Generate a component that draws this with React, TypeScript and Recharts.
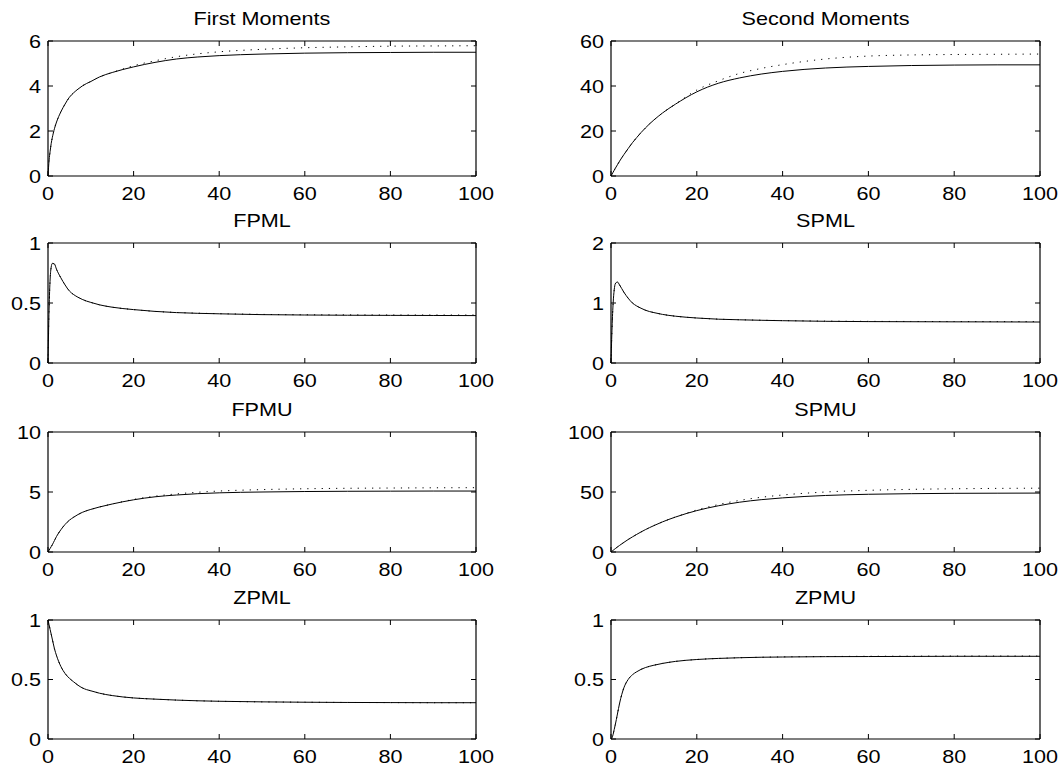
import React from "react";
import { LineChart, Line, XAxis, YAxis } from "recharts";

// Shared x grid (time steps)
const X = [0, 0.25, 0.5, 0.75, 1, 1.5, 2, 3, 4, 5, 6, 7, 8, 9, 10, 12, 15, 20, 25, 30, 35, 40, 50, 60, 70, 80, 90, 100];
const X_TICKS = [0, 20, 40, 60, 80, 100];

// First Moments
const FM_SOLID = [0, 0.7, 1.1, 1.45, 1.7, 2.1, 2.4, 2.85, 3.2, 3.5, 3.7, 3.86, 4.0, 4.11, 4.2, 4.4, 4.6, 4.85, 5.05, 5.2, 5.29, 5.35, 5.42, 5.46, 5.48, 5.49, 5.5, 5.5];
const FM_DOT = [0, 0.7, 1.1, 1.45, 1.7, 2.1, 2.4, 2.85, 3.2, 3.5, 3.7, 3.86, 4.0, 4.11, 4.2, 4.4, 4.6, 4.9, 5.12, 5.3, 5.43, 5.52, 5.63, 5.7, 5.74, 5.77, 5.78, 5.79];
const FM_TICKS = [0, 2, 4, 6];

// Second Moments
const SM_SOLID = [0, 0.85, 1.7, 2.55, 3.4, 5.0, 6.6, 9.5, 12.2, 14.8, 17.1, 19.3, 21.3, 23.2, 24.9, 28.0, 31.9, 37.4, 41.2, 43.6, 45.3, 46.5, 48.0, 48.7, 49.1, 49.3, 49.4, 49.4];
const SM_DOT = [0, 0.85, 1.7, 2.55, 3.4, 5.0, 6.6, 9.5, 12.2, 14.8, 17.1, 19.3, 21.3, 23.2, 24.9, 28.0, 31.9, 38.2, 42.3, 45.6, 47.8, 49.5, 52.0, 53.3, 53.8, 54.0, 54.1, 54.2];
const SM_TICKS = [0, 20, 40, 60];

// FPML
const FPML_SOLID = [0, 0.45, 0.7, 0.8, 0.83, 0.825, 0.78, 0.71, 0.65, 0.6, 0.57, 0.548, 0.53, 0.516, 0.505, 0.485, 0.465, 0.445, 0.43, 0.42, 0.414, 0.41, 0.403, 0.4, 0.398, 0.397, 0.396, 0.395];
const FPML_DOT = [0, 0.45, 0.7, 0.8, 0.83, 0.825, 0.78, 0.71, 0.65, 0.6, 0.57, 0.548, 0.53, 0.516, 0.505, 0.485, 0.465, 0.445, 0.43, 0.421, 0.415, 0.411, 0.405, 0.402, 0.401, 0.4, 0.4, 0.4];
const FPML_TICKS = [0, 0.5, 1];

// SPML
const SPML_SOLID = [0, 0.6, 1.0, 1.22, 1.32, 1.35, 1.3, 1.18, 1.08, 1.0, 0.95, 0.913, 0.88, 0.857, 0.84, 0.81, 0.78, 0.75, 0.73, 0.72, 0.712, 0.705, 0.695, 0.69, 0.688, 0.686, 0.685, 0.683];
const SPML_DOT = [0, 0.6, 1.0, 1.22, 1.32, 1.35, 1.3, 1.18, 1.08, 1.0, 0.95, 0.913, 0.88, 0.857, 0.84, 0.81, 0.78, 0.75, 0.731, 0.721, 0.713, 0.707, 0.698, 0.694, 0.692, 0.691, 0.69, 0.69];
const SPML_TICKS = [0, 1, 2];

// FPMU
const FPMU_SOLID = [0, 0.15, 0.3, 0.45, 0.6, 0.95, 1.3, 1.85, 2.3, 2.65, 2.9, 3.12, 3.3, 3.44, 3.55, 3.75, 4.0, 4.35, 4.6, 4.75, 4.86, 4.93, 5.0, 5.04, 5.06, 5.07, 5.08, 5.08];
const FPMU_DOT = [0, 0.15, 0.3, 0.45, 0.6, 0.95, 1.3, 1.85, 2.3, 2.65, 2.9, 3.12, 3.3, 3.44, 3.55, 3.75, 4.0, 4.38, 4.65, 4.84, 4.98, 5.08, 5.2, 5.27, 5.31, 5.33, 5.35, 5.36];
const FPMU_TICKS = [0, 5, 10];

// SPMU
const SPMU_SOLID = [0, 0.7, 1.4, 2.1, 2.8, 4.2, 5.5, 8.0, 10.4, 12.6, 14.7, 16.7, 18.6, 20.35, 22.0, 25.1, 29.1, 34.5, 38.5, 41.5, 43.6, 45.1, 47.1, 48.1, 48.6, 48.9, 49.0, 49.1];
const SPMU_DOT = [0, 0.7, 1.4, 2.1, 2.8, 4.2, 5.5, 8.0, 10.4, 12.6, 14.7, 16.7, 18.6, 20.35, 22.0, 25.1, 29.1, 35.0, 39.5, 43.0, 45.6, 47.5, 50.0, 51.4, 52.2, 52.7, 53.0, 53.2];
const SPMU_TICKS = [0, 50, 100];

// ZPML
const ZPML_SOLID = [1.0, 0.96, 0.92, 0.88, 0.84, 0.76, 0.7, 0.61, 0.55, 0.51, 0.48, 0.452, 0.43, 0.415, 0.405, 0.385, 0.365, 0.345, 0.335, 0.327, 0.321, 0.317, 0.312, 0.309, 0.307, 0.306, 0.305, 0.305];
const ZPML_DOT = [1.0, 0.96, 0.92, 0.88, 0.84, 0.76, 0.7, 0.61, 0.55, 0.51, 0.48, 0.452, 0.43, 0.415, 0.405, 0.385, 0.365, 0.345, 0.335, 0.327, 0.321, 0.317, 0.312, 0.309, 0.307, 0.306, 0.305, 0.305];
const ZPML_TICKS = [0, 0.5, 1];

// ZPMU
const ZPMU_SOLID = [0, 0.01, 0.04, 0.08, 0.12, 0.21, 0.3, 0.43, 0.5, 0.54, 0.565, 0.585, 0.6, 0.611, 0.62, 0.635, 0.652, 0.668, 0.677, 0.683, 0.687, 0.689, 0.692, 0.693, 0.694, 0.695, 0.695, 0.695];
const ZPMU_DOT = [0, 0.01, 0.04, 0.08, 0.12, 0.21, 0.3, 0.43, 0.5, 0.54, 0.565, 0.585, 0.6, 0.611, 0.62, 0.635, 0.652, 0.668, 0.677, 0.683, 0.687, 0.69, 0.693, 0.695, 0.696, 0.697, 0.697, 0.697];
const ZPMU_TICKS = [0, 0.5, 1];

const TITLES = ["First Moments", "Second Moments", "FPML", "SPML", "FPMU", "SPMU", "ZPML", "ZPMU"];

const PANELS = [
  { title: TITLES[0], solid: FM_SOLID, dot: FM_DOT, ticks: FM_TICKS },
  { title: TITLES[1], solid: SM_SOLID, dot: SM_DOT, ticks: SM_TICKS },
  { title: TITLES[2], solid: FPML_SOLID, dot: FPML_DOT, ticks: FPML_TICKS },
  { title: TITLES[3], solid: SPML_SOLID, dot: SPML_DOT, ticks: SPML_TICKS },
  { title: TITLES[4], solid: FPMU_SOLID, dot: FPMU_DOT, ticks: FPMU_TICKS },
  { title: TITLES[5], solid: SPMU_SOLID, dot: SPMU_DOT, ticks: SPMU_TICKS },
  { title: TITLES[6], solid: ZPML_SOLID, dot: ZPML_DOT, ticks: ZPML_TICKS },
  { title: TITLES[7], solid: ZPMU_SOLID, dot: ZPMU_DOT, ticks: ZPMU_TICKS },
];

// layout
const COL_L = [48, 611];
const COL_W = [428, 429];
const ROW_T = [41, 243, 432, 620];
const ROW_H = [135, 120, 120, 119];

const FONT = "'Liberation Sans', Arial, Helvetica, sans-serif";
const FS = 18;
const SX = 1.2;
const TICK = 5;
const ML = 50;
const MT = 10;
const MR = 30;
const MB = 36;
const AX = 1; // axis band size

function Panel({ p, col, row }: { p: any; col: number; row: number }) {
  const W = COL_W[col];
  const H = ROW_H[row];
  const pl = ML;
  const pt = MT;
  const pr = ML + W;
  const pb = MT + H;
  const data = X.map((x, i) => ({ x, s: p.solid[i], d: p.dot[i] }));
  const yMax = p.ticks[p.ticks.length - 1];

  const bottomTick = (props: any) => {
    const { x, payload } = props;
    return (
      <g>
        <line x1={x} x2={x} y1={pb} y2={pb - TICK} stroke="#000" strokeWidth={1} />
        <text
          transform={`translate(${x},${pb + 24}) scale(${SX},1)`}
          textAnchor="middle"
          fontSize={FS}
          fontFamily={FONT}
          fill="#000"
        >
          {payload.value}
        </text>
      </g>
    );
  };
  const topTick = (props: any) => {
    const { x } = props;
    return <line x1={x} x2={x} y1={pt} y2={pt + TICK} stroke="#000" strokeWidth={1} />;
  };
  const leftTick = (props: any) => {
    const { y, payload } = props;
    return (
      <g>
        <line x1={pl} x2={pl + TICK} y1={y} y2={y} stroke="#000" strokeWidth={1} />
        <text
          transform={`translate(${pl - 7},${y + 6.5}) scale(${SX},1)`}
          textAnchor="end"
          fontSize={FS}
          fontFamily={FONT}
          fill="#000"
        >
          {payload.value}
        </text>
      </g>
    );
  };
  const rightTick = (props: any) => {
    const { y } = props;
    return <line x1={pr} x2={pr - TICK} y1={y} y2={y} stroke="#000" strokeWidth={1} />;
  };

  const axisLineStyle = { stroke: "#000", strokeWidth: 1.2 };

  return (
    <div
      style={{
        position: "absolute",
        left: COL_L[col] - ML,
        top: ROW_T[row] - MT,
        width: W + ML + MR,
        height: H + MT + MB,
      }}
    >
      <LineChart
        width={W + ML + MR}
        height={H + MT + MB}
        data={data}
        margin={{ top: MT - AX, right: MR - AX, bottom: MB - AX, left: ML - AX }}
      >
        <XAxis
          dataKey="x"
          type="number"
          domain={[0, 100]}
          ticks={X_TICKS}
          height={AX}
          tickLine={false}
          tick={bottomTick}
          axisLine={axisLineStyle}
          interval={0}
        />
        <XAxis
          xAxisId="top"
          orientation="top"
          dataKey="x"
          type="number"
          domain={[0, 100]}
          ticks={X_TICKS}
          height={AX}
          tickLine={false}
          tick={topTick}
          axisLine={axisLineStyle}
          interval={0}
        />
        <YAxis
          type="number"
          domain={[0, yMax]}
          ticks={p.ticks}
          width={AX}
          tickLine={false}
          tick={leftTick}
          axisLine={axisLineStyle}
          interval={0}
          allowDataOverflow
        />
        <YAxis
          yAxisId="right"
          orientation="right"
          type="number"
          domain={[0, yMax]}
          ticks={p.ticks}
          width={AX}
          tickLine={false}
          tick={rightTick}
          axisLine={axisLineStyle}
          interval={0}
          allowDataOverflow
        />
        <Line
          type="monotone"
          dataKey="d"
          stroke="#000"
          strokeWidth={1}
          strokeDasharray="1.2 6"
          dot={false}
          activeDot={false}
          isAnimationActive={false}
        />
        <Line
          type="monotone"
          dataKey="s"
          stroke="#000"
          strokeWidth={1}
          dot={false}
          activeDot={false}
          isAnimationActive={false}
        />
      </LineChart>
    </div>
  );
}

export default function App() {
  return (
    <div
      style={{
        position: "absolute",
        left: 0,
        top: 0,
        width: 1063,
        height: 769,
        background: "#fff",
        overflow: "hidden",
      }}
    >
      {PANELS.map((p, i) => (
        <Panel key={i} p={p} col={i % 2} row={Math.floor(i / 2)} />
      ))}
      <svg
        width={1063}
        height={769}
        style={{ position: "absolute", left: 0, top: 0, pointerEvents: "none" }}
      >
        {PANELS.map((p, i) => {
          const col = i % 2;
          const row = Math.floor(i / 2);
          const cx = COL_L[col] + COL_W[col] / 2;
          const by = ROW_T[row] - 16;
          return (
            <text
              key={i}
              transform={`translate(${cx},${by}) scale(${SX},1)`}
              textAnchor="middle"
              fontSize={FS}
              fontFamily={FONT}
              fill="#000"
            >
              {p.title}
            </text>
          );
        })}
      </svg>
    </div>
  );
}
